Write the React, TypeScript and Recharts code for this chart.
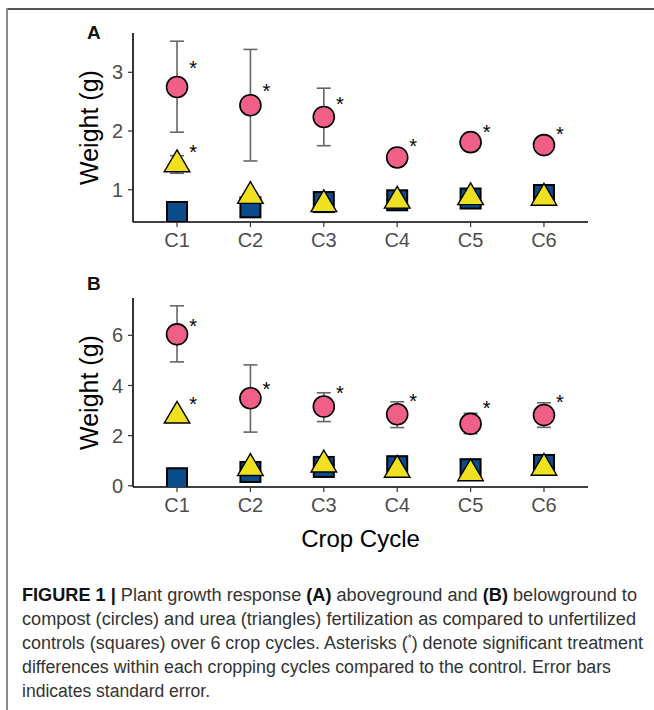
import React from 'react';
import { ScatterChart, Scatter, XAxis, YAxis, ErrorBar } from 'recharts';

const categories = ['C1', 'C2', 'C3', 'C4', 'C5', 'C6'];
const categoryPos = [1, 2, 3, 4, 5, 6];

// Panel A – aboveground
const aCompost = [2.75, 2.44, 2.24, 1.55, 1.81, 1.76];
const aCompostLow = [1.98, 1.49, 1.75, 1.5, 1.76, 1.71];
const aCompostHigh = [3.53, 3.39, 2.73, 1.6, 1.86, 1.81];
const aUrea = [1.43, 0.89, 0.75, 0.81, 0.87, 0.86];
const aUreaLow = [1.28, 0.86, 0.72, 0.78, 0.84, 0.83];
const aUreaHigh = [1.58, 0.92, 0.78, 0.84, 0.9, 0.89];
const aControl = [0.62, 0.7, 0.79, 0.82, 0.85, 0.91];
const aCompostStars = [3.14, 2.75, 2.53, 1.82, 2.05, 2.02];
const aUreaStars = [1.71, null, null, null, null, null];
const aTicks = [1, 2, 3];

// Panel B – belowground
const bCompost = [6.04, 3.49, 3.16, 2.85, 2.47, 2.82];
const bCompostLow = [4.94, 2.14, 2.56, 2.32, 2.08, 2.33];
const bCompostHigh = [7.18, 4.82, 3.71, 3.35, 2.89, 3.31];
const bUrea = [2.79, 0.7, 0.84, 0.63, 0.49, 0.71];
const bUreaLow = [2.72, 0.64, 0.78, 0.57, 0.43, 0.65];
const bUreaHigh = [2.86, 0.76, 0.9, 0.69, 0.55, 0.77];
const bControl = [0.3, 0.55, 0.75, 0.78, 0.66, 0.83];
const bCompostStars = [6.54, 4.02, 3.85, 3.55, 3.25, 3.51];
const bUreaStars = [3.42, null, null, null, null, null];
const bTicks = [0, 2, 4, 6];

const captionLines = [
  [
    { t: 'FIGURE 1 |', b: true },
    { t: ' Plant growth response ', b: false },
    { t: '(A)', b: true },
    { t: ' aboveground and ', b: false },
    { t: '(B)', b: true },
    { t: ' belowground to', b: false },
  ],
  [{ t: 'compost (circles) and urea (triangles) fertilization as compared to unfertilized', b: false }],
  [
    { t: 'controls (squares) over 6 crop cycles. Asterisks (', b: false },
    { t: '*', b: false, sup: true },
    { t: ') denote significant treatment', b: false },
  ],
  [{ t: 'differences within each cropping cycles compared to the control. Error bars', b: false }],
  [{ t: 'indicates standard error.', b: false }],
];

const FONT = '"Liberation Sans", Arial, Helvetica, sans-serif';
const PINK = '#F05F88';
const YELLOW = '#EFE120';
const BLUE = '#0B4C8A';

const pts = (vals: number[]) => vals.map((v, i) => ({ x: categoryPos[i], y: v }));
const ptsErr = (vals: number[], lo: number[], hi: number[]) =>
  vals.map((v, i) => ({ x: categoryPos[i], y: v, err: [v - lo[i], hi[i] - v] }));
const starPts = (vals: (number | null)[]) =>
  vals.map((v, i) => (v == null ? null : { x: categoryPos[i], y: v })).filter(Boolean) as any[];

const CircleShape = (p: any) => (
  <circle cx={p.cx} cy={p.cy} r={10.5} fill={PINK} stroke="#000" strokeWidth={1.6} />
);
const SquareShape = (p: any) => (
  <rect x={p.cx - 10} y={p.cy - 10} width={20} height={20} fill={BLUE} stroke="#000" strokeWidth={2} />
);
const TriShape = (p: any) => {
  const r = 14.5;
  const h = 12.8;
  return (
    <polygon
      points={`${p.cx},${p.cy - r} ${p.cx + h},${p.cy + r / 2} ${p.cx - h},${p.cy + r / 2}`}
      fill={YELLOW}
      stroke="#000"
      strokeWidth={1.4}
      strokeLinejoin="miter"
    />
  );
};
const StarShape = (p: any) => (
  <text x={p.cx + 16} y={p.cy + 11} fontSize={20} textAnchor="middle" fontFamily={FONT} fill="#000">
    *
  </text>
);

const axisTick = { fill: '#4d4d4d', fontSize: 20, fontFamily: FONT };

type PanelProps = {
  top: number;
  height: number;
  marginTop: number;
  xAxisHeight: number;
  domain: [number, number];
  ticks: number[];
  compost: number[];
  compostLow: number[];
  compostHigh: number[];
  urea: number[];
  ureaLow: number[];
  ureaHigh: number[];
  control: number[];
  compostStars: (number | null)[];
  ureaStars: (number | null)[];
  xLabel?: string;
};

const Panel = (pr: PanelProps) => (
  <div style={{ position: 'absolute', left: 0, top: pr.top }}>
    <ScatterChart
      width={654}
      height={pr.height}
      margin={{ top: pr.marginTop, right: 66, left: 0, bottom: 0 }}
    >
      <XAxis
        type="number"
        dataKey="x"
        domain={[0.4, 6.6]}
        ticks={categoryPos}
        tickFormatter={(v: number) => categories[v - 1]}
        height={pr.xAxisHeight}
        axisLine={{ stroke: '#000', strokeWidth: 1.6 }}
        tickLine={{ stroke: '#333', strokeWidth: 1.2 }}
        tickSize={5}
        tickMargin={6}
        tick={axisTick}
        allowDataOverflow
        label={
          pr.xLabel
            ? { value: pr.xLabel, position: 'insideBottom', offset: 13, fontSize: 24, fill: '#000', fontFamily: FONT }
            : undefined
        }
      />
      <YAxis
        type="number"
        dataKey="y"
        domain={pr.domain}
        ticks={pr.ticks}
        width={133}
        axisLine={{ stroke: '#000', strokeWidth: 1.6 }}
        tickLine={{ stroke: '#333', strokeWidth: 1.2 }}
        tickSize={5}
        tickMargin={5}
        tick={axisTick}
        allowDataOverflow
        label={{
          value: 'Weight (g)',
          angle: -90,
          position: 'insideLeft',
          offset: 89,
          fontSize: 25,
          fill: '#000',
          fontFamily: FONT,
          style: { textAnchor: 'middle' },
        }}
      />
      <Scatter data={pts(pr.control)} shape={SquareShape} isAnimationActive={false} />
      <Scatter data={ptsErr(pr.compost, pr.compostLow, pr.compostHigh)} shape={CircleShape} isAnimationActive={false}>
        <ErrorBar dataKey="err" direction="y" width={7} stroke="#666" strokeWidth={1.6} />
      </Scatter>
      <Scatter data={ptsErr(pr.urea, pr.ureaLow, pr.ureaHigh)} shape={TriShape} isAnimationActive={false}>
        <ErrorBar dataKey="err" direction="y" width={7} stroke="#666" strokeWidth={1.6} />
      </Scatter>
      <Scatter data={starPts(pr.compostStars)} shape={StarShape} isAnimationActive={false} />
      <Scatter data={starPts(pr.ureaStars)} shape={StarShape} isAnimationActive={false} />
    </ScatterChart>
  </div>
);

const captionEnds = [637, 636, 643, 611, 210];

export default function App() {
  return (
    <div style={{ position: 'absolute', left: 0, top: 0, width: 654, height: 710, background: '#fff', overflow: 'hidden' }}>
      {/* frame */}
      <div style={{ position: 'absolute', left: 6, top: 8, width: 648, height: 2, background: '#555' }} />
      <div style={{ position: 'absolute', left: 6, top: 8, width: 2, height: 702, background: '#8a8a8a' }} />

      <div style={{ position: 'absolute', left: 87, top: 22, fontFamily: FONT, fontWeight: 'bold', fontSize: 19, color: '#111' }}>A</div>
      <div style={{ position: 'absolute', left: 87, top: 273, fontFamily: FONT, fontWeight: 'bold', fontSize: 19, color: '#111' }}>B</div>

      <Panel
        top={0}
        height={250}
        marginTop={33}
        xAxisHeight={28}
        domain={[0.45, 3.67]}
        ticks={aTicks}
        compost={aCompost}
        compostLow={aCompostLow}
        compostHigh={aCompostHigh}
        urea={aUrea}
        ureaLow={aUreaLow}
        ureaHigh={aUreaHigh}
        control={aControl}
        compostStars={aCompostStars}
        ureaStars={aUreaStars}
      />
      <Panel
        top={260}
        height={300}
        marginTop={38}
        xAxisHeight={73}
        domain={[-0.05, 7.49]}
        ticks={bTicks}
        compost={bCompost}
        compostLow={bCompostLow}
        compostHigh={bCompostHigh}
        urea={bUrea}
        ureaLow={bUreaLow}
        ureaHigh={bUreaHigh}
        control={bControl}
        compostStars={bCompostStars}
        ureaStars={bUreaStars}
        xLabel="Crop Cycle"
      />

      <svg style={{ position: 'absolute', left: 0, top: 570 }} width={654} height={140}>
        {captionLines.map((line, li) => (
          <text
            key={li}
            x={22}
            y={31 + li * 24}
            fontFamily={FONT}
            fontSize={18}
            fill="#333"
            textLength={captionEnds[li] - 22}
            lengthAdjust="spacingAndGlyphs"
          >
            {line.map((s: any, si) => (
              <tspan
                key={si}
                fontWeight={s.b ? 'bold' : 'normal'}
                fill={s.b ? '#111' : '#333'}
                fontSize={s.sup ? 10 : 18}
                dy={s.sup ? -7 : si > 0 && (line[si - 1] as any).sup ? 7 : 0}
              >
                {s.t}
              </tspan>
            ))}
          </text>
        ))}
      </svg>
    </div>
  );
}
